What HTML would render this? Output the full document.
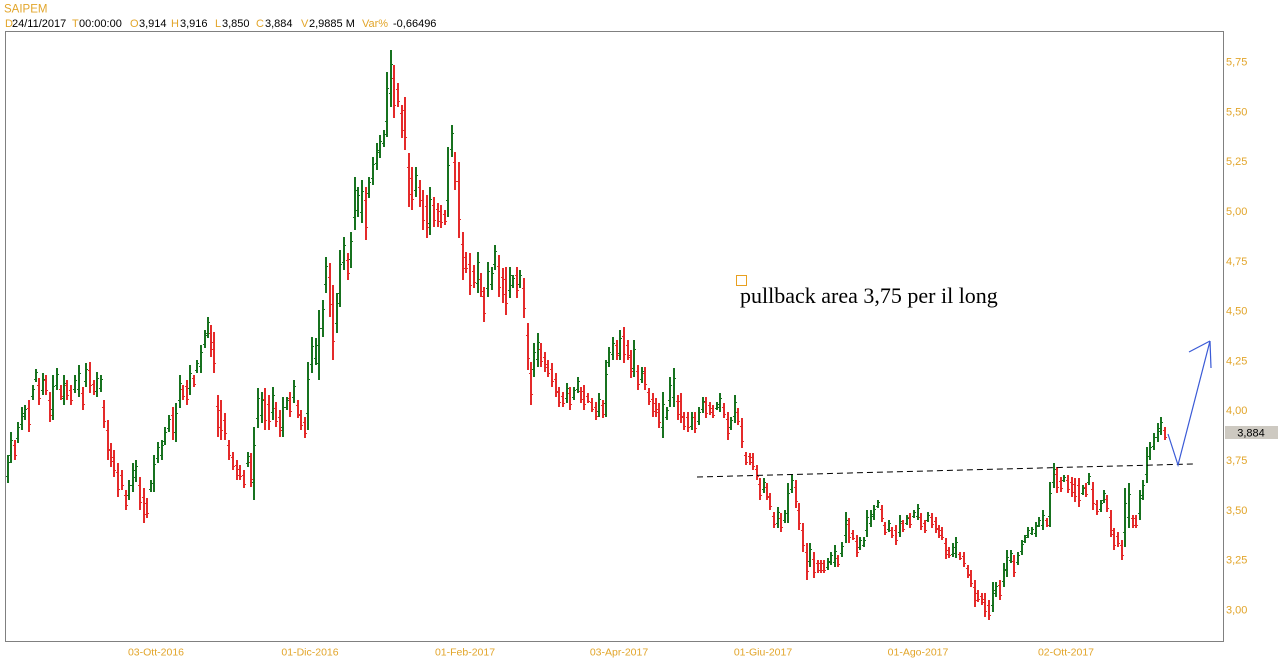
<!DOCTYPE html>
<html>
<head>
<meta charset="utf-8">
<style>
html,body{margin:0;padding:0;background:#fff;}
body{width:1278px;height:669px;overflow:hidden;position:relative;}
svg{position:absolute;left:0;top:0;}
.ax{font-family:"Liberation Sans",Arial,sans-serif;font-size:11px;fill:#e2a52a;}
.hd{font-family:"Liberation Sans",Arial,sans-serif;font-size:11px;}
.or{fill:#e2a52a;}
.bk{fill:#000;}
</style>
</head>
<body>
<svg id="chart" width="1278" height="669" viewBox="0 0 1278 669" xmlns="http://www.w3.org/2000/svg">
  <rect x="0" y="0" width="1278" height="669" fill="#fff"/>
  <!-- header -->
  <text class="hd or" x="4" y="12.5" style="font-size:11.5px">SAIPEM</text>
  <text class="hd or" x="5" y="27">D</text><text class="hd bk" x="12" y="27">24/11/2017</text>
  <text class="hd or" x="72" y="27">T</text><text class="hd bk" x="79" y="27">00:00:00</text>
  <text class="hd or" x="130" y="27">O</text><text class="hd bk" x="139" y="27">3,914</text>
  <text class="hd or" x="171" y="27">H</text><text class="hd bk" x="180" y="27">3,916</text>
  <text class="hd or" x="215" y="27">L</text><text class="hd bk" x="222" y="27">3,850</text>
  <text class="hd or" x="256" y="27">C</text><text class="hd bk" x="265" y="27">3,884</text>
  <text class="hd or" x="301" y="27">V</text><text class="hd bk" x="309" y="27">2,9885 M</text>
  <text class="hd or" x="362" y="27">Var%</text><text class="hd bk" x="393" y="27">-0,66496</text>

  <!-- frame -->
  <rect x="5.5" y="31.5" width="1218" height="610" fill="none" stroke="#808080" stroke-width="1"/>

  <!-- y axis labels -->
  <g class="ax">
    <text x="1226" y="65.5">5,75</text>
    <text x="1226" y="115.3">5,50</text>
    <text x="1226" y="165.1">5,25</text>
    <text x="1226" y="215">5,00</text>
    <text x="1226" y="264.8">4,75</text>
    <text x="1226" y="314.6">4,50</text>
    <text x="1226" y="364.4">4,25</text>
    <text x="1226" y="414.2">4,00</text>
    <text x="1226" y="464">3,75</text>
    <text x="1226" y="513.9">3,50</text>
    <text x="1226" y="563.7">3,25</text>
    <text x="1226" y="613.5">3,00</text>
  </g>
  <!-- price box -->
  <rect x="1225" y="426" width="53" height="13" fill="#cdc9c1"/>
  <text x="1251" y="436.5" text-anchor="middle" style="font-family:'Liberation Sans',Arial,sans-serif;font-size:11px;fill:#000">3,884</text>

  <!-- x axis labels -->
  <g class="ax" text-anchor="middle" style="font-size:10.5px">
    <text x="156" y="655.5">03-Ott-2016</text>
    <text x="310" y="655.5">01-Dic-2016</text>
    <text x="465" y="655.5">01-Feb-2017</text>
    <text x="619" y="655.5">03-Apr-2017</text>
    <text x="763" y="655.5">01-Giu-2017</text>
    <text x="918" y="655.5">01-Ago-2017</text>
    <text x="1066" y="655.5">02-Ott-2017</text>
  </g>

  <g id="bars"></g>

  <!-- dashed line -->
  <line x1="697" y1="477" x2="1193" y2="464" stroke="#000" stroke-width="1" stroke-dasharray="6,4"/>

  <!-- blue arrow -->
  <polyline points="1168,434 1178,465 1210,341" fill="none" stroke="#3a5ad6" stroke-width="1.2"/>
  <line x1="1210" y1="341" x2="1189" y2="352" stroke="#3a5ad6" stroke-width="1.2"/>
  <line x1="1210" y1="341" x2="1211" y2="368" stroke="#3a5ad6" stroke-width="1.2"/>

  <!-- annotation -->
  <rect x="736.5" y="275.5" width="10" height="10" fill="none" stroke="#e8a020" stroke-width="1"/>
  <text x="740" y="303" style="font-family:'Liberation Serif','Times New Roman',serif;font-size:22px;fill:#000">pullback area 3,75 per il long</text>
</svg>
<script>
var d=[
[7,455,483],[10,432,463],[14,440,460],[17,422,443],[21,407,430],[24,405,420],[28,400,432],[32,385,400],[35,369,382],[38,378,405],[42,373,395],[45,375,395],[49,392,422],[52,375,420],[56,368,390],[60,385,400],[63,375,405],[66,380,400],[70,385,405],[74,375,393],[78,365,397],[82,387,410],[85,363,387],[89,362,393],[93,380,395],[96,372,397],[100,375,392],
[103,400,428],[107,420,460],[110,443,467],[113,450,477],[117,463,497],[121,470,490],[125,490,510],[128,480,500],[132,463,492],[135,460,482],[139,477,510],[143,488,523],[146,498,518],[150,480,492],[153,455,492],[157,442,463],[161,440,460],[164,427,445],[168,415,432],[172,407,440],[175,403,442],[179,375,408],[182,385,400],[186,380,405],[189,365,395],[193,375,387],[196,360,373],[200,345,373],[204,330,348],[207,317,338],[210,325,357],[213,332,373],[217,395,437],[220,400,440],[224,413,440],[228,440,460],[232,452,470],[236,460,480],[239,465,480],[243,470,488],[247,452,467],[250,453,487],[253,427,500],[257,388,428],
[261,392,423],[264,388,430],[268,395,430],[272,387,420],[275,402,427],[279,410,437],[282,397,437],[286,397,410],[289,392,417],[293,380,403],[297,400,418],[300,410,430],[304,417,438],
[307,362,430],[311,337,373],[315,338,365],[318,310,380],[322,300,337],[325,257,293],[329,263,317],[332,285,360],[336,293,333],[339,250,307],[343,237,270],[347,253,280],[350,232,268],[354,177,230],[357,187,217],[361,180,223],[365,187,240],[368,177,198],[372,157,185],[376,143,170],[379,135,158],[383,130,147],[386,72,137],[390,50,107],[393,65,118],[397,83,107],[401,105,138],[404,97,150],[408,153,207],[411,167,210],[415,167,197],[419,180,207],[422,190,230],[426,195,238],[429,187,235],[433,197,227],[437,203,227],[440,205,228],[444,210,225],[447,147,217],[451,125,157],[454,152,190],[458,162,238],[462,232,280],[465,252,273],[469,253,295],[473,265,288],[477,252,293],[480,273,297],[483,287,322],[487,262,297],[491,267,290],[494,245,270],[498,255,297],[502,268,303],[505,267,315],[509,267,298],[512,275,288],[516,267,298],[519,270,288],[523,278,318],[527,323,370],[530,362,405],[533,343,377],[537,333,367],[540,343,367],[544,352,372],[547,360,377],[551,363,387],[555,373,397],[558,387,407],[562,392,407],[566,383,403],[569,387,410],[573,387,400],[577,377,393],[580,387,403],[583,385,410],[587,393,403],[591,398,412],[595,402,420],[598,393,417],[602,400,418],[605,360,417],[608,347,367],[612,337,360],[616,340,360],[619,330,360],[623,327,363],[627,340,360],[630,350,378],[633,340,377],[637,365,390],[641,367,383],[644,367,390],[648,388,405],[652,393,417],[655,398,417],[658,403,428],[662,392,438],[666,407,420],[669,377,407],[673,368,407],[677,395,420],[680,393,423],[683,412,430],[687,412,432],[691,412,430],[694,412,433],[698,407,425],[702,397,413],[705,397,418],[709,402,415],[712,405,418],[716,402,410],[719,393,412],[723,403,418],[727,412,440],[730,417,430],[734,395,423],[737,408,425],[741,418,448],[745,452,465],[749,453,465],[752,453,470],[756,465,480],[759,478,500],[763,478,493],[766,483,500],[769,493,510],[773,512,528],[777,507,528],[780,513,532],[784,510,523],[787,483,523],[791,475,493],[795,480,508],[798,503,530],[802,523,552],[806,543,580],[809,543,567],[813,552,578],[817,560,573],
[820,560,573],[823,560,573],[827,558,570],[830,552,565],[834,545,567],[837,555,567],[841,542,557],[845,512,543],[848,518,543],[852,530,540],[856,535,557],[859,537,550],[863,537,547],[866,510,537],[870,510,527],[873,505,520],[877,500,508],[881,505,522],[884,522,535],[888,520,532],[891,527,538],[895,525,545],[899,515,537],[902,520,532],[906,515,525],[909,513,528],[913,510,518],[917,504,520],[920,513,530],[924,520,533],[927,512,522],[931,513,528],[935,517,533],[938,525,538],[941,527,540],[945,538,559],[948,547,558],[952,543,557],[955,537,558],[959,552,560],[963,552,567],[967,565,578],[970,570,587],[974,580,607],[977,590,602],[981,593,605],[984,593,617],[988,600,620],[992,582,612],[995,582,597],[999,580,600],[1003,563,587],[1006,550,577],[1010,550,563],[1013,555,577],[1017,552,565],[1021,540,555],[1024,535,543],[1027,527,538],[1031,527,535],[1035,522,537],[1038,517,527],[1042,510,530],[1046,518,527],[1049,482,527],[1053,463,488],[1056,467,493],[1060,477,492],[1063,475,482],[1067,475,493],[1071,477,497],[1074,478,502],[1078,478,507],[1082,485,495],[1085,483,497],[1088,473,485],[1092,482,510],[1096,500,515],[1100,500,512],[1103,490,503],[1106,495,512],[1110,510,537],[1113,528,550],[1117,532,547],[1121,540,560],[1124,488,547],[1128,483,528],[1132,515,528],[1135,515,528],[1139,490,520],[1142,480,500],[1146,447,483],[1149,442,460],[1153,433,450],[1157,423,442],[1160,417,435],[1164,427,440]
];
var ns="http://www.w3.org/2000/svg";
var g=document.getElementById("bars");
var G="#17721f",R="#e42a2a";
var prev=null;
for(var i=0;i<d.length;i++){
  var x=d[i][0],t=d[i][1],b=d[i][2];
  var c=(t+b)/2;
  var up = prev===null ? true : (c<prev);
  prev=c;
  var col=up?G:R;
  var r=document.createElementNS(ns,"rect");
  r.setAttribute("x",x);r.setAttribute("y",t);
  r.setAttribute("width",2);r.setAttribute("height",Math.max(2,b-t));
  r.setAttribute("fill",col);g.appendChild(r);
  var h=b-t;
  var oy=up? b-h*0.25 : t+h*0.25;
  var cy=up? t+h*0.25 : b-h*0.25;
  var o=document.createElementNS(ns,"rect");
  o.setAttribute("x",x-1);o.setAttribute("y",Math.round(oy));
  o.setAttribute("width",1);o.setAttribute("height",1);o.setAttribute("fill",col);g.appendChild(o);
  var cc=document.createElementNS(ns,"rect");
  cc.setAttribute("x",x+2);cc.setAttribute("y",Math.round(cy));
  cc.setAttribute("width",1);cc.setAttribute("height",1);cc.setAttribute("fill",col);g.appendChild(cc);
}
</script>
</body>
</html>
